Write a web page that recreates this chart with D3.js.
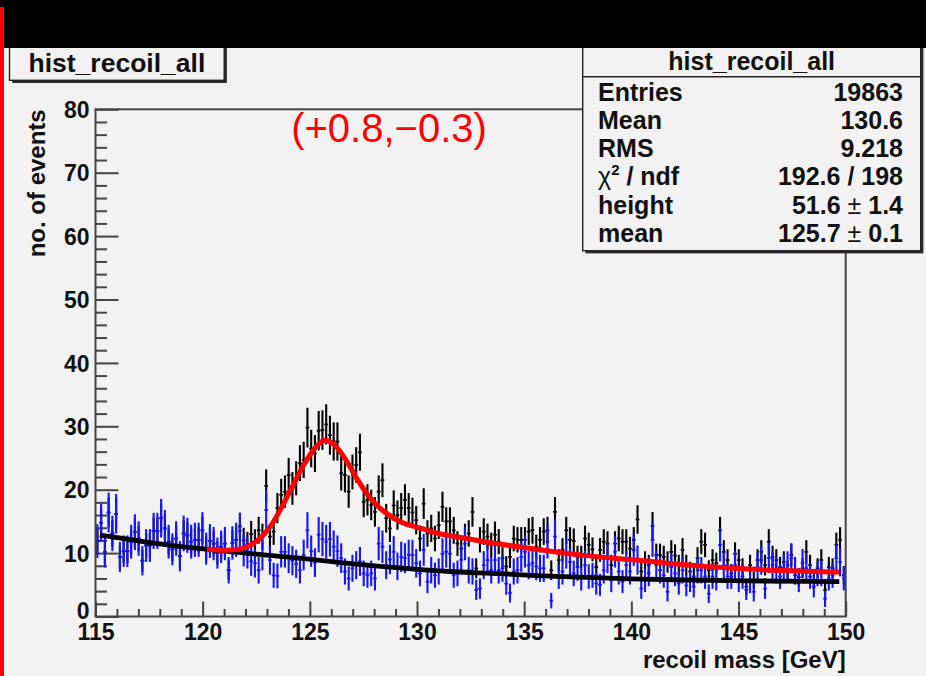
<!DOCTYPE html>
<html><head><meta charset="utf-8">
<script src="https://cdn.jsdelivr.net/npm/d3@7"></script>
<style>
html,body{margin:0;padding:0;background:#f2f2f2;}
svg{display:block;}
text{font-family:"Liberation Sans",Arial,Helvetica,sans-serif;}
</style></head><body>
<svg id="c" width="926" height="676"></svg>
<script>
// Histogram binning: 200 bins between 115 and 150 GeV
const binLow = 115, binHigh = 150, nBins = 200;

// Background-only sample (blue)
const blueCounts = [
11.9,14.8,10.2,16.4,13.1,16.2,9.4,10.3,10.3,11.8,
13.3,12.3,8.8,11.2,11.2,13.5,13.5,15.5,13.9,11.8,
10.6,12.3,9.5,13.1,12.8,11.8,12.1,12.1,13.6,10.7,
11.9,11.5,10.0,11.0,11.5,7.3,11.6,12.1,13.5,
10.4,10.0,8.7,8.4,7.3,9.7,16.8,8.9,6.5,6.4,
10.2,10.2,9.2,8.8,8.3,7.3,9.7,13.6,10.3,8.5,
12.9,12.2,11.8,12.2,11.0,10.3,9.2,7.1,6.0,7.6,
8.1,8.7,6.8,6.5,6.8,6.0,11.5,11.0,8.1,9.0,
10.2,7.9,9.4,9.2,9.7,9.7,8.4,6.8,10.5,5.5,
7.3,6.5,7.1,9.9,10.2,9.9,6.5,6.8,8.9,11.5,
7.3,7.1,4.2,4.4,8.1,8.9,7.3,8.9,7.3,7.6,
5.2,3.7,7.1,7.3,9.4,10.2,8.1,8.4,7.9,
7.6,7.6,11.8,2.5,12.6,6.3,7.1,10.0,8.6,6.8,
7.8,6.0,8.1,6.3,6.5,5.2,5.0,7.3,9.2,5.7,
10.2,7.1,5.5,8.1,7.1,10.5,8.9,4.4,5.7,6.8,
12.1,8.1,7.3,6.5,3.9,7.8,6.8,5.2,7.3,
4.9,5.7,4.7,7.3,7.3,6.3,3.6,6.3,6.0,11.3,
8.1,6.3,6.3,8.1,5.7,6.3,4.2,5.5,3.9,7.8,
8.9,4.4,9.2,8.1,7.3,6.3,7.6,8.1,9.2,7.3,
5.7,8.4,7.6,6.3,4.7,6.8,6.8,2.8,6.0,6.5,
9.2,8.6,6.0
];

// Signal + background sample (black)
const blackCounts = [
11.9,14.8,10.2,16.4,13.1,16.2,9.4,10.3,10.3,11.8,
13.3,12.3,8.8,11.2,11.2,13.5,13.5,15.5,13.9,11.8,
10.6,12.3,9.5,13.1,12.8,11.8,12.1,12.1,13.6,10.7,
11.9,11.5,10.0,11.0,11.5,7.3,11.6,12.1,
14.2,12.0,11.4,13.0,11.8,13.6,12.6,20.6,12.6,13.4,
17.1,19.2,19.7,22.3,20.2,21.8,24.2,24.7,29.8,26.5,
25.7,29.3,29.4,30.3,28.6,27.6,27.6,22.6,22.3,19.7,
22.8,23.9,25.9,18.1,18.4,17.6,16.5,19.7,21.5,15.5,
13.9,
17.5,16.0,17.1,18.4,17.1,16.4,15.2,12.3,17.8,13.1,
13.9,12.3,14.4,17.3,15.0,15.0,13.6,11.5,10.7,12.6,
13.1,16.5,7.6,12.1,13.4,12.6,11.3,12.9,11.8,9.2,
7.9,9.4,12.3,12.1,12.1,12.1,13.4,13.6,11.0,
12.1,13.4,13.6,7.3,16.5,8.9,10.5,13.6,12.1,11.9,
9.4,9.4,12.3,11.3,10.6,7.8,10.5,11.8,11.5,8.1,
11.5,12.3,11.8,11.8,10.7,12.1,15.3,7.1,8.6,8.1,
14.3,9.7,9.7,9.4,8.6,10.2,9.6,8.1,10.5,
8.1,7.1,6.3,9.2,11.8,11.3,7.3,8.9,8.4,13.6,
10.2,8.9,6.8,9.9,8.9,7.6,4.7,8.1,5.7,8.9,
10.2,8.1,11.8,9.4,8.9,7.8,8.6,7.3,9.7,6.5,
6.2,7.6,10.2,8.1,5.7,7.6,8.9,4.2,7.8,7.6,
11.3,12.1,6.5
];

// Per-entry weights of the two weighted histograms (error = sqrt(sum w^2))
const blueWeight = 0.6, blackWeight = 0.33;

// Fitted functions, sampled [mass, events]
const fitTotal = [
[120.2,10.65],[121.0,10.45],[121.7,10.6],[122.2,11.2],[122.7,12.4],[123.2,14.4],
[123.7,17.3],[124.2,20.6],[124.7,23.8],[125.2,26.4],[125.7,27.8],[126.2,26.9],
[126.7,24.6],[127.2,21.7],[127.7,19.2],[128.2,17.3],[128.7,16.0],[129.2,15.0],
[130.2,13.9],[131.0,13.1],[131.8,12.6],[133.3,11.7],[135.6,10.6],[137.9,9.6],
[140.2,8.9],[142.5,8.15],[144.8,7.6],[147.1,7.25],[149.7,7.0]
];
const fitBackground = [
[115.2,12.85],[116.5,12.2],[118.0,11.45],[119.9,10.7],[121.7,10.1],[124.5,9.2],
[127.0,8.3],[128.7,7.8],[131.5,7.1],[133.9,6.75],[135.6,6.45],[137.6,6.2],
[140.0,5.95],[142.5,5.76],[145.4,5.62],[149.7,5.5]
];

const yMajor = [0,10,20,30,40,50,60,70,80];
const xMajor = [115,120,125,130,135,140,145,150];
const histName = "hist_recoil_all";
const statsRows = [
  ["Entries", "19863"],
  ["Mean", "130.6"],
  ["RMS", "9.218"],
  ["chi2", "192.6 / 198"],
  ["height", "51.6|1.4"],
  ["mean", "125.7|0.1"]
];
const shiftLabel = "(+0.8,\u22120.3)";

const svg = d3.select("#c");
const W = 926, H = 676;
const L = 95.5, R = 845.7, T = 109.3, B = 616.5;

svg.append("rect").attr("width", W).attr("height", H).attr("fill", "#f2f2f2");

const x = d3.scaleLinear().domain([binLow, binHigh]).range([L, R]);
const y = d3.scaleLinear().domain([0, 80]).range([B, T]);
const bw = (binHigh - binLow) / nBins;

// axes
const axisColor = "#454545";
const yMinor = d3.range(0, 80, 2).filter(v => v % 10 !== 0);
const xMinor = d3.range(116, 150, 1).filter(v => v % 5 !== 0);

function styleAxis(g) {
  g.select(".domain").remove();
  g.selectAll(".tick line").attr("stroke", axisColor).attr("stroke-width", 2);
  g.selectAll(".tick text").attr("fill", "#111").attr("font-weight", "bold").attr("font-size", 23);
}
svg.append("g").attr("transform", `translate(${L},0)`)
  .call(d3.axisLeft(y).tickValues(yMajor).tickSize(-23).tickPadding(6).tickFormat(d3.format("d")))
  .call(styleAxis)
  .call(g => g.selectAll(".tick text").attr("dy", d => d === 0 ? "0.08em" : "0.36em"));
svg.append("g").attr("transform", `translate(${L},0)`)
  .call(d3.axisLeft(y).tickValues(yMinor).tickSize(-11.5).tickFormat(""))
  .call(styleAxis);
svg.append("g").attr("transform", `translate(0,${B})`)
  .call(d3.axisBottom(x).tickValues(xMajor).tickSize(-15).tickPadding(7).tickFormat(d3.format("d")))
  .call(styleAxis);
svg.append("g").attr("transform", `translate(0,${B})`)
  .call(d3.axisBottom(x).tickValues(xMinor).tickSize(-7.5).tickFormat(""))
  .call(styleAxis);

// histograms with error bars
function drawHist(counts, weight, color) {
  const g = svg.append("g");
  const bins = counts.map((v, i) => ({ c: binLow + (i + 0.5) * bw, lo: binLow + i * bw, hi: binLow + (i + 1) * bw, v, e: Math.sqrt(v * weight) }));
  g.selectAll("line.err").data(bins).join("line")
    .attr("x1", d => x(d.c)).attr("x2", d => x(d.c))
    .attr("y1", d => y(d.v - d.e)).attr("y2", d => y(d.v + d.e))
    .attr("stroke", color).attr("stroke-width", 2.1);
  g.selectAll("line.bin").data(bins).join("line")
    .attr("x1", d => x(d.lo)).attr("x2", d => x(d.hi))
    .attr("y1", d => y(d.v)).attr("y2", d => y(d.v))
    .attr("stroke", color).attr("stroke-width", 1.7);
}
drawHist(blackCounts, blackWeight, "#000000");
drawHist(blueCounts, blueWeight, "#1414ff");

// fitted curves
const line = d3.line().x(d => x(d[0])).y(d => y(d[1])).curve(d3.curveMonotoneX);
svg.append("path").attr("d", line(fitBackground)).attr("fill", "none")
  .attr("stroke", "#000").attr("stroke-width", 4.8);
svg.append("path").attr("d", line(fitTotal)).attr("fill", "none")
  .attr("stroke", "#ff0000").attr("stroke-width", 5);

// frame
svg.append("rect").attr("x", L).attr("y", T).attr("width", R - L).attr("height", B - T)
  .attr("fill", "none").attr("stroke", axisColor).attr("stroke-width", 2);

// axis titles
svg.append("text").attr("x", R).attr("y", 668).attr("text-anchor", "end")
  .attr("font-weight", "bold").attr("font-size", 24).attr("fill", "#111").text("recoil mass [GeV]");
svg.append("text").attr("transform", `translate(45,${T}) rotate(-90)`).attr("text-anchor", "end")
  .attr("font-weight", "bold").attr("font-size", 24).attr("fill", "#111").text("no. of events");

// shift annotation
svg.append("text").attr("x", 389).attr("y", 142).attr("text-anchor", "middle")
  .attr("font-family", "'Noto Sans CJK JP','Noto Sans',sans-serif").attr("font-size", 40)
  .attr("fill", "#ff0000").text(shiftLabel);

// title box
function box(x0, y0, x1, y1) {
  svg.append("rect").attr("x", x0 + 2.7).attr("y", y0 + 2.7).attr("width", x1 - x0).attr("height", y1 - y0).attr("fill", "#2a2a2a");
  svg.append("rect").attr("x", x0).attr("y", y0).attr("width", x1 - x0).attr("height", y1 - y0)
    .attr("fill", "#f2f2f2").attr("stroke", "#222").attr("stroke-width", 1.4);
}
box(9.5, 40, 224.2, 80.3);
svg.append("text").attr("x", 28.5).attr("y", 71.7).attr("font-weight", "bold").attr("font-size", 26.5)
  .attr("fill", "#111").text(histName);

// statistics box
const sx0 = 582.7, sx1 = 920.7;
box(sx0, 40, sx1, 250.7);
svg.append("text").attr("x", (sx0 + sx1) / 2).attr("y", 69.5).attr("text-anchor", "middle")
  .attr("font-weight", "bold").attr("font-size", 25).attr("fill", "#111").text(histName);
svg.append("line").attr("x1", sx0).attr("x2", sx1).attr("y1", 76.7).attr("y2", 76.7)
  .attr("stroke", "#222").attr("stroke-width", 1.4);
statsRows.forEach((r, i) => {
  const yy = 100.5 + i * 28.3;
  const lab = svg.append("text").attr("x", 598).attr("y", yy).attr("font-weight", "bold")
    .attr("font-size", 25).attr("fill", "#111");
  if (r[0] === "chi2") {
    lab.append("tspan").attr("font-weight", "normal").text("\u03c7");
    lab.append("tspan").attr("font-size", 15).attr("dy", -10).text("2");
    lab.append("tspan").attr("dy", 10).text(" / ndf");
  } else lab.text(r[0]);
  const val = svg.append("text").attr("x", 903).attr("y", yy).attr("text-anchor", "end")
    .attr("font-weight", "bold").attr("font-size", 25).attr("fill", "#111");
  if (r[1].includes("|")) {
    const [a, b] = r[1].split("|");
    val.append("tspan").text(a);
    val.append("tspan").attr("font-weight", "normal").text(" \u00b1 ");
    val.append("tspan").text(b);
  } else val.text(r[1]);
});

// slide header band and left marker line
svg.append("rect").attr("x", 0).attr("y", 0).attr("width", W).attr("height", 48).attr("fill", "#000");
svg.append("rect").attr("x", 0).attr("y", 7).attr("width", 4).attr("height", H - 7).attr("fill", "#ff0000");
</script>
</body></html>
